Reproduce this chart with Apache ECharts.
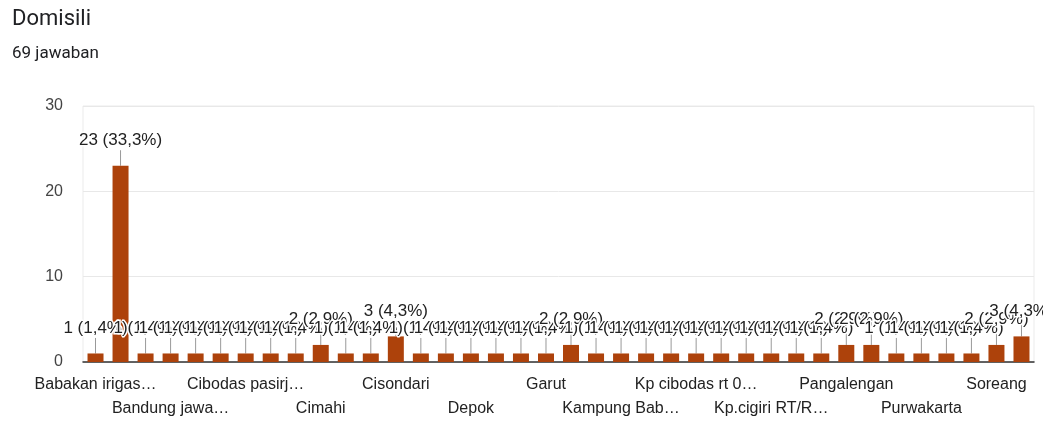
<!DOCTYPE html>
<html>
<head>
<meta charset="utf-8">
<title>Domisili</title>
<script src="https://cdn.jsdelivr.net/npm/echarts@6/dist/echarts.min.js"></script>
<style>
  html, body { margin: 0; padding: 0; background: #fff; }
  #chart { width: 1043px; height: 421px; }
</style>
</head>
<body>
<div id="chart"></div>
<script>
// Domicile of respondents (alphabetical, as listed in the form summary)
const categories = [
  'Babakan irigas\u2026', 'Bandung', 'Bandung barat', 'Bandung jawa\u2026',
  'Bekasi', 'Cianjur', 'Cibodas pasirj\u2026', 'Cileunyi', 'Cililin', 'Cimahi',
  'Cimenyan', 'Ciparay', 'Cisondari', 'Ciwidey', 'Dayeuhkolot', 'Depok',
  'Ds. Sukamaju', 'Gadog', 'Garut', 'Jakarta', 'Jatinangor', 'Kampung Bab\u2026',
  'Katapang', 'Kopo', 'Kp cibodas rt 0\u2026', 'Kp sukamaju rt 02', 'Kp. Cibeureum',
  'Kp.cigiri RT/R\u2026', 'Lembang', 'Majalaya', 'Pangalengan', 'Pasirjambu',
  'Pesawahan', 'Purwakarta', 'Rancaekek', 'Sayati', 'Soreang', 'Sumedang'
];
const counts = [
  1, 23, 1, 1, 1, 1, 1, 1, 1, 2,
  1, 1, 3, 1, 1, 1, 1, 1, 1, 2,
  1, 1, 1, 1, 1, 1, 1, 1, 1, 1,
  2, 2, 1, 1, 1, 1, 2, 3
];
const yTicks = { min: 0, max: 30, interval: 10 };
const titleText = 'Domisili';
const answersWord = 'jawaban';

const total = counts.reduce((a, b) => a + b, 0);
const pct = v => (v / total * 100).toFixed(1).replace('.', ',');

// every third category gets a label, alternating between two rows
const rowLabel = row => ({
  interval: idx => idx % 3 === 0 && (idx / 3) % 2 === row,
  margin: 11 + row * 24,
  fontSize: 16,
  lineHeight: 24,
  color: '#222'
});

const chart = echarts.init(document.getElementById('chart'), null, { renderer: 'canvas' });

chart.setOption({
  animation: false,
  textStyle: { fontFamily: 'Liberation Sans, Arial, sans-serif' },
  title: [
    {
      text: titleText,
      left: 7, top: 3,
      textStyle: { fontFamily: 'Roboto, sans-serif', fontSize: 22, fontWeight: 'normal', color: '#202124', lineHeight: 22 }
    },
    {
      text: total + ' ' + answersWord,
      left: 7, top: 40,
      textStyle: { fontFamily: 'Roboto, sans-serif', fontSize: 17, fontWeight: 'normal', color: '#202124', lineHeight: 17 }
    }
  ],
  grid: {
    left: 83, right: 9, top: 106, bottom: 57,
    show: true, borderColor: '#ebebeb', borderWidth: 1
  },
  xAxis: [
    {
      type: 'category',
      data: categories,
      position: 'bottom',
      axisTick: { show: false },
      axisLine: { lineStyle: { color: '#333', width: 1.5 } },
      axisLabel: rowLabel(0)
    },
    {
      type: 'category',
      data: categories,
      position: 'bottom',
      axisTick: { show: false },
      axisLine: { show: false },
      splitLine: { show: false },
      axisLabel: rowLabel(1)
    }
  ],
  yAxis: {
    type: 'value',
    min: yTicks.min, max: yTicks.max, interval: yTicks.interval,
    axisLine: { show: false },
    axisTick: { show: false },
    splitLine: { lineStyle: { color: '#e8e8e8' } },
    axisLabel: { fontSize: 16, color: '#444', margin: 20 }
  },
  series: [{
    type: 'bar',
    data: counts,
    xAxisIndex: 0,
    barWidth: 16,
    itemStyle: { color: '#ad420b' },
    label: {
      show: true,
      position: 'top',
      distance: 0,
      fontSize: 17,
      color: '#222',
      textBorderColor: '#fff',
      textBorderWidth: 3,
      formatter: p => p.value + ' (' + pct(p.value) + '%)'
    },
    labelLayout: { dy: -17 },
    labelLine: { show: true, lineStyle: { color: '#999', width: 1 } }
  }]
});
</script>
</body>
</html>
